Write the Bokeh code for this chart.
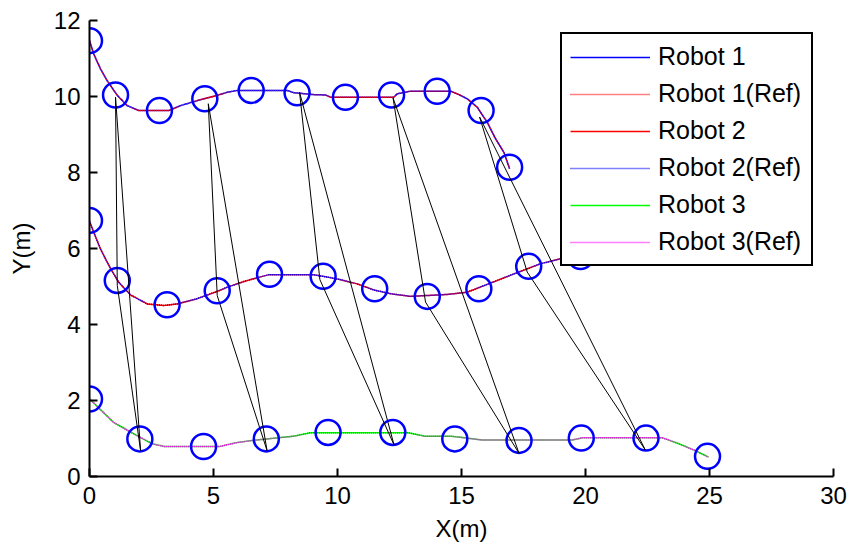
from bokeh.plotting import figure
from bokeh.models import Range1d, Legend, LegendItem, FixedTicker
from bokeh.embed import file_html
from bokeh.resources import INLINE

# ---- trajectories (metres) ----
robot1_x = [0.00, 0.04, 0.17, 0.44, 0.71, 1.12, 1.52, 1.99, 3.20, 3.67, 4.34, 5.15, 5.55, 5.96,
            7.97, 8.24, 9.04, 9.52, 9.72, 12.27, 12.41, 12.94, 14.56, 14.83, 15.23, 15.63,
            16.04, 16.37, 16.71, 16.94]
robot1_y = [11.47, 11.39, 11.12, 10.73, 10.42, 10.03, 9.76, 9.63, 9.63, 9.76, 9.89, 10.03, 10.11,
            10.16, 10.16, 10.10, 10.05, 10.04, 9.98, 9.98, 10.07, 10.14, 10.14, 10.07, 9.94,
            9.72, 9.32, 8.89, 8.53, 8.10]

robot2_x = [0.00, 0.17, 0.44, 0.85, 1.18, 1.65, 2.33, 3.00, 3.53, 4.34, 5.15, 5.55, 6.22, 6.76,
            7.23, 9.04, 9.58, 10.12, 10.79, 11.46, 12.14, 12.94, 14.42, 15.23, 16.17, 17.11,
            18.19, 19.00, 19.80]
robot2_y = [6.72, 6.43, 5.99, 5.47, 5.11, 4.78, 4.54, 4.50, 4.54, 4.68, 4.87, 4.98, 5.13, 5.23,
            5.31, 5.31, 5.25, 5.18, 5.07, 4.91, 4.81, 4.74, 4.79, 4.85, 5.09, 5.33, 5.60,
            5.73, 5.78]

robot3_x = [0.00, 0.13, 0.96, 1.79, 2.53, 3.02, 5.25, 5.92, 6.58, 8.23, 8.89, 12.86, 13.52,
            14.59, 15.83, 19.47, 19.88, 23.10, 23.77, 24.43, 24.96]
robot3_y = [2.04, 1.96, 1.43, 1.12, 0.86, 0.79, 0.79, 0.89, 0.95, 1.06, 1.15, 1.15, 1.06,
            1.06, 0.96, 0.96, 1.02, 1.02, 0.86, 0.68, 0.51]

# reference trajectories follow the same waypoints
robot1_ref_x, robot1_ref_y = robot1_x, robot1_y
robot2_ref_x, robot2_ref_y = robot2_x, robot2_y
robot3_ref_x, robot3_ref_y = robot3_x, robot3_y

# ---- robot positions at sampled instants ----
r1_cx = [0.00, 1.05, 2.82, 4.65, 6.52, 8.37, 10.32, 12.18, 14.02, 15.79, 16.94]
r1_cy = [11.47, 10.04, 9.63, 9.94, 10.16, 10.10, 9.98, 10.04, 10.14, 9.63, 8.14]
r2_cx = [0.00, 1.12, 3.13, 5.15, 7.26, 9.42, 11.50, 13.62, 15.70, 17.71, 19.80]
r2_cy = [6.74, 5.16, 4.52, 4.89, 5.32, 5.27, 4.94, 4.74, 4.94, 5.53, 5.79]
r3_cx = [0.00, 2.03, 4.60, 7.13, 9.62, 12.23, 14.73, 17.32, 19.83, 22.44, 24.92]
r3_cy = [2.04, 0.99, 0.79, 0.99, 1.16, 1.16, 0.99, 0.95, 1.01, 1.01, 0.53]

# ---- formation triangles (vertex of each robot) ----
tri_r1_x = [1.05, 4.79, 8.47, 12.24, 15.73]
tri_r1_y = [9.98, 9.81, 10.11, 9.96, 9.46]
tri_r2_x = [1.12, 5.15, 9.29, 13.55, 17.65]
tri_r2_y = [5.03, 4.76, 5.18, 4.59, 5.38]
tri_r3_x = [2.06, 7.16, 12.28, 17.32, 22.41]
tri_r3_y = [0.68, 0.68, 0.83, 0.61, 0.70]

x_ticks = [0, 5, 10, 15, 20, 25, 30]
y_ticks = [0, 2, 4, 6, 8, 10, 12]

FONT = "Liberation Sans"
FS = "24px"

p = figure(width=848, height=546, output_backend="svg", toolbar_location=None,
           x_range=Range1d(0, 30), y_range=Range1d(0, 12),
           min_border_left=89, min_border_right=15, min_border_top=20, min_border_bottom=70)
p.outline_line_color = None
p.grid.visible = False
p.background_fill_color = "white"
p.border_fill_color = "white"

SOLID = "1 0"
DOT = "1 1"
l1 = p.line(robot1_x, robot1_y, line_color="#0000FF", line_width=1.5, line_dash=SOLID)
l1r = p.line(robot1_ref_x, robot1_ref_y, line_color="#FF0000", line_width=1.5, line_dash=DOT)
l2 = p.line(robot2_x, robot2_y, line_color="#FF0000", line_width=1.5, line_dash=SOLID)
l2r = p.line(robot2_ref_x, robot2_ref_y, line_color="#0000FF", line_width=1.5, line_dash=DOT)
l3 = p.line(robot3_x, robot3_y, line_color="#00FF00", line_width=1.5, line_dash=SOLID)
l3r = p.line(robot3_ref_x, robot3_ref_y, line_color="#FF00FF", line_width=1.5, line_dash=DOT)

for cx, cy in ((r1_cx, r1_cy), (r2_cx, r2_cy), (r3_cx, r3_cy)):
    p.scatter(cx, cy, marker="circle", size=25, fill_color=None,
              line_color="#0000FF", line_width=2.5)

tri_xs = [[a, b, c, a] for a, b, c in zip(tri_r1_x, tri_r2_x, tri_r3_x)]
tri_ys = [[a, b, c, a] for a, b, c in zip(tri_r1_y, tri_r2_y, tri_r3_y)]
p.multi_line(tri_xs, tri_ys, line_color="black", line_width=1)

for ax, ticks in ((p.xaxis, x_ticks), (p.yaxis, y_ticks)):
    ax.ticker = FixedTicker(ticks=ticks)
    ax.axis_line_width = 2
    ax.axis_line_color = "black"
    ax.major_tick_in = 8
    ax.major_tick_out = 0
    ax.major_tick_line_width = 2
    ax.minor_tick_in = 0
    ax.minor_tick_out = 0
    ax.major_label_text_font = FONT
    ax.major_label_text_font_size = FS
    ax.major_label_text_color = "black"
    ax.axis_label_text_font = FONT
    ax.axis_label_text_font_size = FS
    ax.axis_label_text_font_style = "normal"
    ax.axis_label_text_color = "black"

p.xaxis.axis_label = "X(m)"
p.yaxis.axis_label = "Y(m)"
p.xaxis.major_label_standoff = 10
p.xaxis.axis_label_standoff = 8
p.yaxis.major_label_standoff = 9
p.yaxis.axis_label_standoff = 16

legend = Legend(items=[
    LegendItem(label="Robot 1", renderers=[l1]),
    LegendItem(label="Robot 1(Ref)", renderers=[l1r]),
    LegendItem(label="Robot 2", renderers=[l2]),
    LegendItem(label="Robot 2(Ref)", renderers=[l2r]),
    LegendItem(label="Robot 3", renderers=[l3]),
    LegendItem(label="Robot 3(Ref)", renderers=[l3r]),
])
legend.location = (471, 210)
legend.border_line_color = "black"
legend.border_line_alpha = 1.0
legend.border_line_width = 2
legend.background_fill_color = "white"
legend.background_fill_alpha = 1.0
legend.label_text_font = FONT
legend.label_text_font_size = "25px"
legend.label_text_color = "black"
legend.glyph_width = 80
legend.glyph_height = 28
legend.label_height = 28
legend.label_width = 145
legend.label_standoff = 8
legend.spacing = 8
legend.padding = 8
legend.margin = 0
p.add_layout(legend)

open("out.html", "w").write(file_html(p, INLINE))
